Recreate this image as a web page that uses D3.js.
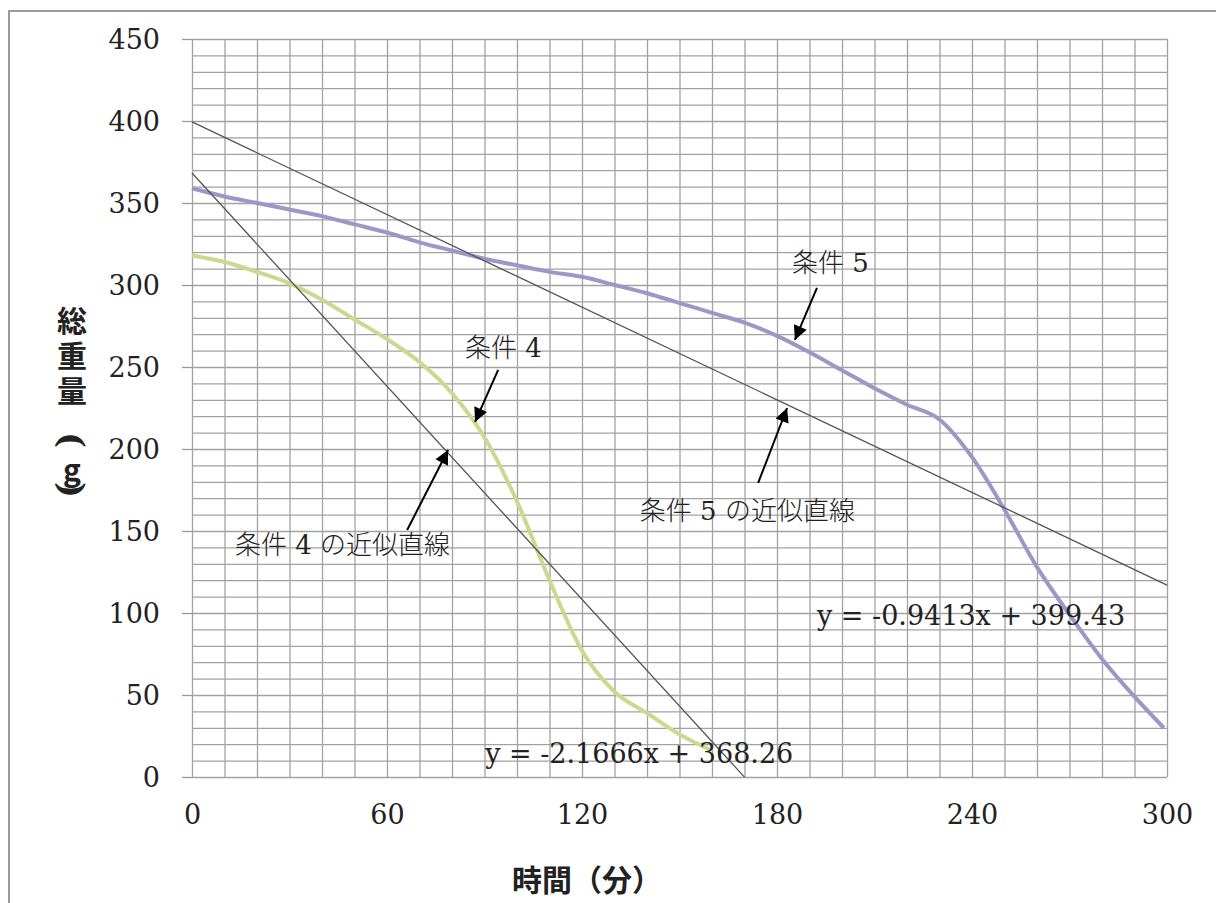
<!doctype html>
<html lang="ja">
<head>
<meta charset="utf-8">
<title>総重量の変化</title>
<style>
  body { margin: 0; background: #fff; }
  svg { display: block; }
  .grid line { stroke: #a2a2a2; stroke-width: 1.3; }
  .grid .domain { display: none; }
  .ticks text { font-family: "DejaVu Serif", serif; font-size: 27px; fill: #222; }
  .ticks line { stroke: #999; stroke-width: 1.3; }
  .ticks .domain { display: none; }
  .jp { font-family: "DejaVu Serif", "Noto Sans CJK JP", serif; font-size: 26px; font-weight: 300; fill: #222; }
  .bold { font-family: "Noto Sans CJK JP", sans-serif; font-weight: 700; font-size: 30px; fill: #222; }
  .paren { font-family: "DejaVu Serif", serif; font-weight: 700; font-size: 34px; fill: #222; }
  .eq { font-family: "DejaVu Serif", serif; font-size: 27px; fill: #222; }
  .vertical { writing-mode: vertical-rl; text-orientation: upright; letter-spacing: 5px; }
</style>
</head>
<body>
<div id="chart"></div>
<script src="https://cdnjs.cloudflare.com/ajax/libs/d3/7.8.5/d3.min.js"></script>
<script>
// 条件5 (purple)
const minutes5 = [0, 10, 20, 30, 40, 50, 60, 70, 80, 90, 100, 110, 120, 130, 140, 150,
                  160, 170, 180, 190, 200, 210, 220, 230, 240, 250, 260, 270, 280, 290, 299];
const weight5 = [359, 354, 350, 346, 342, 337, 332, 326, 321, 316, 312, 308, 305, 300, 295, 289,
                 283, 277, 269, 259, 248, 237, 227, 218, 195, 163, 128, 99, 72, 49, 30];
// 条件4 (green)
const minutes4 = [0, 10, 20, 30, 40, 50, 60, 70, 80, 90, 100, 110, 120, 130, 140, 150, 160];
const weight4 = [318, 314, 308, 301, 291, 279, 267, 253, 234, 207, 168, 120, 77, 52, 39, 26, 16];

// 近似直線
const trendSlopes = [-2.1666, -0.9413];
const trendIntercepts = [368.26, 399.43];
const trendEnds = [170, 300];

const xTicks = [0, 60, 120, 180, 240, 300];
const yTicks = [0, 50, 100, 150, 200, 250, 300, 350, 400, 450];

const W = 1216, H = 903;
const margin = {left: 192, right: 49, top: 39, bottom: 126};
const width = W - margin.left - margin.right;
const height = H - margin.top - margin.bottom;

const svg = d3.select("#chart").append("svg")
    .attr("width", W)
    .attr("height", H);

// outer frame (only top and left edges fall inside the picture)
svg.append("rect")
    .attr("x", 9).attr("y", 11)
    .attr("width", W + 40).attr("height", H + 40)
    .attr("fill", "none")
    .attr("stroke", "#9a9a9a")
    .attr("stroke-width", 2);

const x = d3.scaleLinear().domain([0, 300]).range([margin.left, margin.left + width]);
const y = d3.scaleLinear().domain([0, 450]).range([margin.top + height, margin.top]);

// grid: every 10 minutes / every 10 g
svg.append("g")
    .attr("class", "grid")
    .attr("transform", `translate(0,${margin.top + height})`)
    .call(d3.axisBottom(x).tickValues(d3.range(0, 301, 10)).tickSize(-height).tickFormat(""));

svg.append("g")
    .attr("class", "grid")
    .attr("transform", `translate(${margin.left},0)`)
    .call(d3.axisLeft(y).tickValues(d3.range(0, 451, 10)).tickSize(-width).tickFormat(""));

// axes labels
svg.append("g")
    .attr("class", "ticks")
    .attr("transform", `translate(${margin.left},0)`)
    .call(d3.axisLeft(y).tickValues(yTicks).tickSize(10).tickPadding(22))
    .selectAll("text").attr("dy", "0.36em");

svg.append("g")
    .attr("class", "ticks")
    .attr("transform", `translate(0,${margin.top + height})`)
    .call(d3.axisBottom(x).tickValues(xTicks).tickSize(0).tickPadding(28));

// series
const line = d3.line()
    .x(d => x(d[0]))
    .y(d => y(d[1]))
    .curve(d3.curveMonotoneX);

svg.append("path")
    .datum(minutes4.map((m, i) => [m, weight4[i]]))
    .attr("d", line)
    .attr("fill", "none")
    .attr("stroke", "#c9d98e")
    .attr("stroke-width", 4);

svg.append("path")
    .datum(minutes5.map((m, i) => [m, weight5[i]]))
    .attr("d", line)
    .attr("fill", "none")
    .attr("stroke", "#9d96c6")
    .attr("stroke-width", 4);

// trend lines
svg.selectAll(".trend")
    .data(trendSlopes)
    .enter().append("line")
    .attr("class", "trend")
    .attr("x1", x(0))
    .attr("y1", (s, i) => y(trendIntercepts[i]))
    .attr("x2", (s, i) => x(trendEnds[i]))
    .attr("y2", (s, i) => y(s * trendEnds[i] + trendIntercepts[i]))
    .attr("stroke", "#555")
    .attr("stroke-width", 1.3);

// annotations (in data units)
svg.append("defs").append("marker")
    .attr("id", "head")
    .attr("viewBox", "0 0 10 10")
    .attr("refX", 10).attr("refY", 5)
    .attr("markerWidth", 16).attr("markerHeight", 14)
    .attr("markerUnits", "userSpaceOnUse")
    .attr("orient", "auto")
    .append("path")
    .attr("d", "M0,0L10,5L0,10Z")
    .attr("fill", "#000");

const arrows = [
    [[192.3, 298.2], [185.5, 266.5]],
    [[174.2, 179.3], [183.1, 225.0]],
    [[94.2, 248.2], [87.1, 216.5]],
    [[66.2, 150.6], [78.8, 199.4]]
];
svg.selectAll(".arrow")
    .data(arrows)
    .enter().append("line")
    .attr("class", "arrow")
    .attr("x1", d => x(d[0][0])).attr("y1", d => y(d[0][1]))
    .attr("x2", d => x(d[1][0])).attr("y2", d => y(d[1][1]))
    .attr("stroke", "#000")
    .attr("stroke-width", 2)
    .attr("marker-end", "url(#head)");

const notes = [
    {text: "条件 5", at: [184.6, 313.4]},
    {text: "条件 5 の近似直線", at: [137.8, 162.2]},
    {text: "条件 4", at: [84.0, 261.6]},
    {text: "条件 4 の近似直線", at: [13.2, 141.5]}
];
svg.selectAll(".note")
    .data(notes)
    .enter().append("text")
    .attr("class", "jp")
    .attr("x", d => x(d.at[0]))
    .attr("y", d => y(d.at[1]))
    .attr("dy", "0.36em")
    .text(d => d.text);

const equations = [
    {text: "y = -0.9413x + 399.43", at: [192.3, 98.8]},
    {text: "y = -2.1666x + 368.26", at: [90.2, 14.6]}
];
svg.selectAll(".eqn")
    .data(equations)
    .enter().append("text")
    .attr("class", "eq")
    .attr("x", d => x(d.at[0]))
    .attr("y", d => y(d.at[1]))
    .attr("dy", "0.36em")
    .text(d => d.text);

// axis titles: 総重量（g） written top to bottom, brackets turned sideways
svg.append("text")
    .attr("class", "bold vertical")
    .attr("x", 72)
    .attr("y", 306)
    .text("総重量");

const yUnit = [
    {ch: "(", cy: 440, rot: 90, cls: "paren"},
    {ch: "g", cy: 468, rot: 0, cls: "bold"},
    {ch: ")", cy: 490, rot: 90, cls: "paren"}
];
svg.selectAll(".unit")
    .data(yUnit)
    .enter().append("text")
    .attr("class", d => d.cls)
    .attr("text-anchor", "middle")
    .attr("dominant-baseline", "central")
    .attr("transform", d => `translate(72,${d.cy}) rotate(${d.rot})`)
    .text(d => d.ch);

svg.append("text")
    .attr("class", "bold")
    .attr("x", 512)
    .attr("y", 878)
    .attr("dominant-baseline", "central")
    .text("時間（分）");
</script>
</body>
</html>
